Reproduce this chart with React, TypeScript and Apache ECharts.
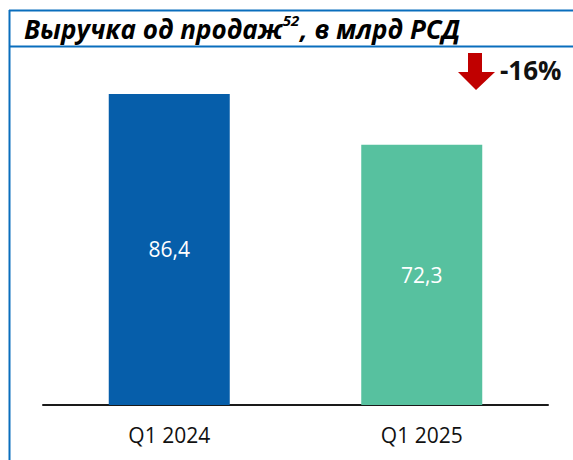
import React, { useEffect, useRef } from "react";
import * as echarts from "echarts";

const categories = ["Q1 2024", "Q1 2025"];
const values = [86.4, 72.3];
const barColors = ["#065EAA", "#57C19F"];
const changeLabel = "-16%";
const titleMain = "Выручка од продаж";
const titleSup = "52";
const titleTail = ", в млрд РСД";

export default function App() {
  const ref = useRef<HTMLDivElement>(null);
  useEffect(() => {
    if (!ref.current) return;
    const chart = echarts.init(ref.current, null, { renderer: "svg" });
    const font = "'Open Sans', 'Noto Sans', sans-serif";
    chart.setOption({
      animation: false,
      backgroundColor: "#ffffff",
      grid: { left: 43, right: 25, top: 45, bottom: 55, containLabel: false },
      xAxis: {
        type: "category",
        data: categories,
        axisLine: { show: true, lineStyle: { color: "#1a1a1a", width: 2 } },
        axisTick: { show: false },
        axisLabel: { color: "#111", fontFamily: font, fontSize: 21, margin: 19 },
      },
      yAxis: {
        type: "value",
        min: 0,
        max: 100,
        show: false,
        splitLine: { show: false },
      },
      series: [
        {
          type: "bar",
          barWidth: 121,
          data: values.map((v, i) => ({ value: v, itemStyle: { color: barColors[i] } })),
          label: {
            show: true,
            position: "inside",
            color: "#ffffff",
            fontFamily: font,
            fontSize: 21,
            formatter: (p: any) => String(p.value).replace(".", ","),
          },
        },
      ],
      graphic: [
        { type: "line", shape: { x1: 9.5, y1: 10, x2: 9.5, y2: 460 }, style: { stroke: "#0A6EBD", lineWidth: 2 } },
        { type: "line", shape: { x1: 9, y1: 10.5, x2: 573, y2: 10.5 }, style: { stroke: "#0A6EBD", lineWidth: 2 } },
        { type: "line", shape: { x1: 9, y1: 46.5, x2: 573, y2: 46.5 }, style: { stroke: "#0A6EBD", lineWidth: 2 } },
        {
          type: "text",
          left: 24,
          top: 10,
          style: {
            text: "{a|" + titleMain + "}{s|" + titleSup + "}{a|" + titleTail + "}",
            rich: {
              a: { fontFamily: font, fontSize: 26, fontWeight: "bold", fontStyle: "italic", fill: "#000", lineHeight: 32, verticalAlign: "bottom" },
              s: { fontFamily: font, fontSize: 15, fontWeight: "bold", fontStyle: "italic", fill: "#000", lineHeight: 20, verticalAlign: "top", padding: [2, 1, 0, 0] },
            },
          },
        },
        {
          type: "polygon",
          shape: { points: [[468, 53], [482, 53], [482, 72], [495, 72], [476, 90], [458, 72], [468, 72]] },
          style: { fill: "#C00000" },
        },
        {
          type: "text",
          x: 500,
          y: 70,
          style: { text: changeLabel, fontFamily: font, fontSize: 26, fontWeight: "bold", fill: "#111", verticalAlign: "middle" },
        },
      ],
    });
    return () => chart.dispose();
  }, []);
  return <div ref={ref} style={{ width: 573, height: 460, position: "absolute", left: 0, top: 0 }} />;
}
